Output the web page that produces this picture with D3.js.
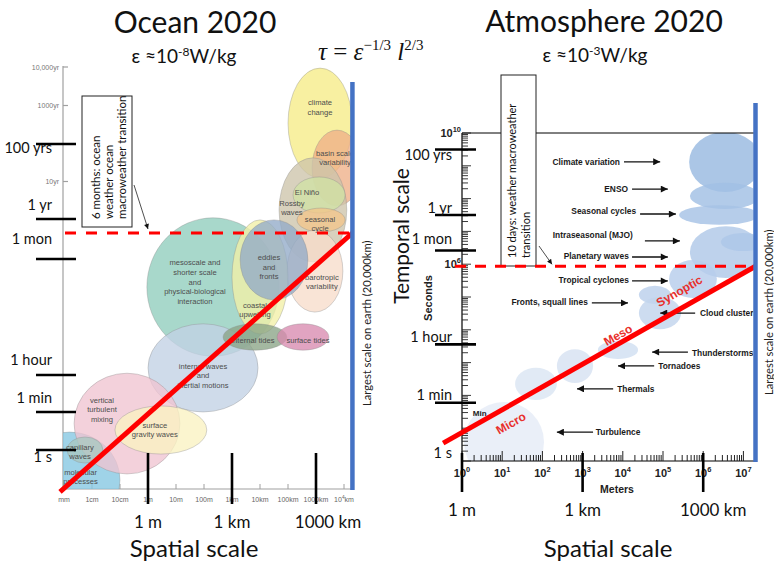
<!DOCTYPE html>
<html>
<head>
<meta charset="utf-8">
<script src="https://cdn.jsdelivr.net/npm/d3@7/dist/d3.min.js"></script>
<style>
  html, body { margin: 0; padding: 0; background: #fff; }
  svg { display: block; font-family: Lato, "Open Sans", sans-serif; }
</style>
</head>
<body>
<svg id="chart" width="774" height="567"></svg>
<script>
// ---------- units (seconds / metres) ----------
const SEC = 1, MIN = 60, HR = 3600, DAY = 86400, YR = 3.156e7, MON = YR / 12, HALF_YR = YR / 2;

// ---------- Ocean 2020 ----------
const oceanProcesses = [
  "climate\nchange", "basin scale\nvariability", "Rossby\nwaves", "El Niño", "seasonal\ncycle",
  "barotropic\nvariability", "mesoscale and\nshorter scale\nand\nphysical-biological\ninteraction",
  "coastal\nupwelling", "eddies\nand\nfronts", "internal waves\nand\ninertial motions",
  "internal tides", "surface tides", "molecular\nprocesses", "vertical\nturbulent\nmixing",
  "capillary\nwaves", "surface\ngravity waves"
];
// log10 of the length range (m) and time range (s) covered by each process
const oceanLogLength = [[5.0, 7.29], [5.86, 7.64], [4.68, 7.10], [5.18, 7.04], [5.32, 7.04], [4.96, 6.96],
  [-0.04, 4.68], [3.0, 5.0], [3.29, 5.71], [0.0, 3.93], [2.68, 4.96], [4.61, 6.46], [-4.6, -1.0],
  [-2.64, 1.14], [-2.89, -1.61], [-1.18, 2.10]];
const oceanLogTime = [[8.59, 11.47], [7.85, 9.86], [6.35, 9.13], [7.66, 8.62], [7.22, 7.79], [5.11, 7.26],
  [4.02, 7.53], [4.57, 7.48], [5.41, 7.48], [1.78, 4.82], [4.17, 4.82], [4.17, 4.82], [-3.65, 0.84],
  [-1.12, 3.60], [-0.61, 0.61], [-0.19, 2.07]];
const oceanLengthTicks = [1e-3, 1e-2, 1e-1, 1, 10, 100, 1e3, 1e4, 1e5, 1e6, 1e7];
const oceanLengthTickLabels = ["mm", "1cm", "10cm", "1m", "10m", "100m", "1km", "10km", "100km", "1000km", "10^4km"];
const oceanAxisTimes = [1e4 * YR, 1e3 * YR, 100 * YR, 10 * YR, YR];
const oceanAxisLabels = ["10,000yr", "1000yr", "", "10yr", ""];
const oceanTimeKnots = [SEC, MIN, HR, MON, HALF_YR, YR, 100 * YR, 1e4 * YR];
const oceanTimeMarks = [100 * YR, YR, MON, HR, MIN, SEC];
const oceanTimeMarkLabels = ["100 yrs", "1 yr", "1 mon", "1 hour", "1 min", "1 s"];
const oceanScaleLine = [[7.2e-4, 0.011], [2e7, HALF_YR]];     // [length m, time s]
const oceanTransition = HALF_YR;
const oceanTransitionText = ["6 months: ocean", "weather ocean", "macroweather transition"];

// ---------- Atmosphere 2020 ----------
const atmosProcesses = ["Climate variation", "ENSO", "Seasonal cycles", "Planetary waves", "MJO",
  "Tropical cyclones", "Fronts", "Cloud clusters", "Thunderstorms", "Tornadoes", "Thermals", "Turbulence"];
const atmosLogLength = [[5.65, 7.44], [5.67, 7.41], [5.40, 7.39], [5.67, 7.46], [6.44, 7.54], [5.15, 6.34],
  [4.40, 5.20], [4.40, 5.45], [3.38, 4.38], [2.36, 3.26], [1.32, 2.36], [0.05, 2.04]];
const atmosLogTime = [[8.20, 10.03], [7.68, 8.48], [7.20, 7.80], [5.58, 7.16], [6.40, 6.95], [4.97, 6.13],
  [4.79, 5.34], [4.02, 5.00], [3.11, 3.66], [2.38, 3.41], [1.86, 2.84], [-0.64, 1.80]];
const atmosNotes = ["Climate variation", "ENSO", "Seasonal cycles", "Intraseasonal (MJO)", "Planetary waves",
  "Tropical cyclones", "Fronts, squall lines", "Cloud clusters", "Thunderstorms", "Tornadoes", "Thermals", "Turbulence"];
const atmosNoteLogTime = [9.12, 8.29, 7.62, 6.89, 6.25, 5.52, 4.85, 4.51, 3.29, 2.90, 2.20, 0.88];
const atmosNoteTextEdge = [3.93, 4.13, 4.33, 4.25, 4.15, 4.15, 3.13, 5.92, 5.72, 4.88, 3.86, 3.33];
const atmosArrowLogTime = [9.12, 8.29, 7.53, 6.71, 6.22, 5.49, 4.82, 4.51, 3.32, 2.90, 2.20, 0.88];
const atmosArrowFrom = [4.03, 4.23, 4.43, 4.55, 4.23, 4.23, 3.23, 5.80, 5.62, 4.78, 3.76, 3.26];
const atmosArrowTo = [4.93, 5.12, 5.32, 5.42, 5.12, 5.12, 4.13, 4.93, 4.73, 3.88, 2.86, 2.36];
const atmosTimeMarks = [100 * YR, YR, MON, HR, MIN, SEC];
const atmosTimeMarkLabels = ["100 yrs", "1 yr", "1 mon", "1 hour", "1 min", "1 s"];
const atmosScaleLine = [[0.34, 3.5], [2e7, 10 * DAY]];
const atmosRegimes = ["Micro", "Meso", "Synoptic"];
const atmosRegimeLogLength = [1.02, 3.98, 5.6];
const atmosTransition = 10 * DAY;
const atmosTransitionText = ["10 days: weather macroweather", "transition"];

// ---------- shared ----------
const lengthMarks = [1, 1e3, 1e6];
const lengthMarkLabels = ["1 m", "1 km", "1000 km"];
const earthScale = 2e7;

// ---------- styles ----------
const oceanFill = ["#f6ec86", "#eeb088", "#cdc4ab", "#cfe2a4", "#f2c58a", "#f7dccb", "#8fcdbd", "#f2f0a6",
  "#92abc8", "#c2d1e4", "#8aa487", "#d98bb0", "#84c7e2", "#f0c4d1", "#a9c8c0", "#faf2c2"];
const oceanLabelNudge = [[0, -16], [-2, -10], [-21, -2], [-12, -3], [-1, 4], [7, 11], [-18, -5], [-5, 33],
  [-5, 7], [0, 8], [-2, 3], [5, 3], [11, -3], [-25, -14], [-5, 2], [-6, 0]];
const oceanMarkDy = [9, -9, -15, -10, -9, 12];
const atmosMarkDy = [11, -2, -6, -2, -3, -3];
const regimeOffset = [-16, 8, 16];
const RED = "#ff0000", BLUE = "#4472c4";
const smallFont = "'Liberation Sans Narrow','Arial Narrow','Liberation Sans',Arial,sans-serif";
const boldFont = "'Liberation Sans',Arial,sans-serif";

const svg = d3.select("#chart");
const defs = svg.append("defs");
function addHead(id, w, h) {
  defs.append("marker").attr("id", id).attr("viewBox", "0 0 10 10")
    .attr("refX", 10).attr("refY", 5).attr("markerWidth", w).attr("markerHeight", h)
    .attr("markerUnits", "userSpaceOnUse").attr("orient", "auto")
    .append("path").attr("d", "M0,0L10,5L0,10z").attr("fill", "#111");
}
addHead("head", 8, 7);
addHead("headThin", 7, 5);

function supLabel(sel, base, exp, size) {
  sel.append("tspan").text(base);
  sel.append("tspan").attr("dy", -size * 0.45).attr("font-size", size * 0.68).text(exp);
}

// =====================================================================
// Ocean panel
// =====================================================================
const xO = d3.scaleLog().domain([1e-3, 1e7]).range([64, 344]);
const yOlin = d3.scaleLinear().domain(oceanTimeKnots.map(Math.log10)).range([450, 412, 375, 259, 233, 219, 144, 67]);
const yO = s => yOlin(Math.log10(s));
const oAxisX = 63, oAxisY = 489;

defs.append("clipPath").attr("id", "clipO").append("rect")
  .attr("x", oAxisX).attr("y", 0).attr("width", xO(earthScale) - oAxisX).attr("height", oAxisY);

const gO = svg.append("g");
// gray axes of the base diagram
gO.append("line").attr("x1", oAxisX).attr("x2", oAxisX).attr("y1", yO(1e4 * YR) - 1).attr("y2", oAxisY)
  .attr("stroke", "#a0a0a0").attr("stroke-width", 1.2);
gO.append("line").attr("x1", oAxisX).attr("x2", xO(earthScale)).attr("y1", oAxisY).attr("y2", oAxisY)
  .attr("stroke", "#a0a0a0").attr("stroke-width", 1.2);
oceanAxisTimes.forEach((v, i) => {
  gO.append("line").attr("x1", oAxisX).attr("x2", oAxisX + 5).attr("y1", yO(v)).attr("y2", yO(v))
    .attr("stroke", "#a0a0a0").attr("stroke-width", 1.2);
  if (oceanAxisLabels[i]) gO.append("text").attr("x", oAxisX - 4).attr("y", yO(v) + 2.5)
    .attr("text-anchor", "end").attr("font-family", smallFont).attr("font-size", 7).attr("fill", "#777")
    .text(oceanAxisLabels[i]);
});
oceanLengthTicks.forEach((v, i) => {
  gO.append("line").attr("x1", xO(v)).attr("x2", xO(v)).attr("y1", oAxisY).attr("y2", oAxisY - 5)
    .attr("stroke", "#a0a0a0").attr("stroke-width", 1);
  const lab = oceanLengthTickLabels[i];
  const t = gO.append("text").attr("x", xO(v)).attr("y", oAxisY + 13).attr("text-anchor", "middle")
    .attr("font-family", smallFont).attr("font-size", 7).attr("fill", "#666");
  if (lab.startsWith("10^")) { supLabel(t, "10", "4", 7); t.append("tspan").attr("dy", 3).text("km"); }
  else t.text(lab);
});

// process ellipses
const gEll = gO.append("g").attr("clip-path", "url(#clipO)");
oceanProcesses.forEach((name, i) => {
  const x0 = xO(10 ** oceanLogLength[i][0]), x1 = xO(10 ** oceanLogLength[i][1]);
  const y0 = yO(10 ** oceanLogTime[i][0]), y1 = yO(10 ** oceanLogTime[i][1]);
  gEll.append("ellipse").attr("cx", (x0 + x1) / 2).attr("cy", (y0 + y1) / 2)
    .attr("rx", Math.abs(x1 - x0) / 2).attr("ry", Math.abs(y1 - y0) / 2)
    .attr("fill", oceanFill[i]).attr("fill-opacity", 0.78)
    .attr("stroke", "#8a8a8a").attr("stroke-opacity", 0.45).attr("stroke-width", 0.8);
});
oceanProcesses.forEach((name, i) => {
  const x0 = xO(10 ** oceanLogLength[i][0]), x1 = xO(10 ** oceanLogLength[i][1]);
  const y0 = yO(10 ** oceanLogTime[i][0]), y1 = yO(10 ** oceanLogTime[i][1]);
  const cx = (x0 + x1) / 2 + oceanLabelNudge[i][0], cy = (y0 + y1) / 2 + oceanLabelNudge[i][1];
  const lines = name.split("\n"), lh = 9.6;
  const t = gO.append("text").attr("text-anchor", "middle").attr("font-family", smallFont)
    .attr("font-size", 7.6).attr("fill", "#4d4d4d");
  lines.forEach((ln, k) => t.append("tspan").attr("x", cx).attr("y", cy - (lines.length - 1) * lh / 2 + k * lh + 2.6).text(ln));
});

// transition box
gO.append("rect").attr("x", 82).attr("y", 96).attr("width", 50).attr("height", 131)
  .attr("fill", "#fff").attr("stroke", "#222").attr("stroke-width", 1);
oceanTransitionText.forEach((ln, k) => {
  gO.append("text").attr("transform", `translate(${99.5 + k * 13},219) rotate(-90)`)
    .attr("font-size", 11.5).attr("fill", "#111").text(ln);
});
gO.append("line").attr("x1", 134).attr("y1", 185).attr("x2", 148).attr("y2", yO(oceanTransition) - 4)
  .attr("stroke", "#222").attr("stroke-width", 0.8).attr("marker-end", "url(#headThin)");

// transition (dashed) and scaling line
gO.append("line").attr("x1", oAxisX + 2).attr("x2", xO(earthScale)).attr("y1", yO(oceanTransition)).attr("y2", yO(oceanTransition))
  .attr("stroke", RED).attr("stroke-width", 3).attr("stroke-dasharray", "11,10");
gO.append("path").attr("d", d3.line().x(d => xO(d[0])).y(d => yO(d[1]))(oceanScaleLine))
  .attr("stroke", RED).attr("stroke-width", 5).attr("fill", "none");

// annotated time marks
oceanTimeMarks.forEach((v, i) => {
  gO.append("line").attr("x1", 36).attr("x2", 76).attr("y1", yO(v)).attr("y2", yO(v))
    .attr("stroke", "#000").attr("stroke-width", 2.6);
  gO.append("text").attr("x", 52).attr("y", yO(v) + oceanMarkDy[i]).attr("text-anchor", "end")
    .attr("font-size", 14.5).attr("fill", "#111").text(oceanTimeMarkLabels[i]);
});
// annotated length marks
lengthMarks.forEach((v, i) => {
  gO.append("line").attr("x1", xO(v)).attr("x2", xO(v)).attr("y1", 453).attr("y2", 504)
    .attr("stroke", "#000").attr("stroke-width", 2.6);
  gO.append("text").attr("x", xO(v) + (i === 2 ? 12 : 0)).attr("y", 528).attr("text-anchor", "middle")
    .attr("font-size", 17).attr("fill", "#111").text(lengthMarkLabels[i]);
});
gO.append("text").attr("x", 194).attr("y", 557).attr("text-anchor", "middle").attr("font-size", 24)
  .attr("fill", "#111").text("Spatial scale");

// largest scale on earth
gO.append("line").attr("x1", xO(earthScale)).attr("x2", xO(earthScale)).attr("y1", 82).attr("y2", oAxisY + 1)
  .attr("stroke", BLUE).attr("stroke-width", 4.5);
gO.append("text").attr("transform", `translate(371,406) rotate(-90)`).attr("font-size", 11.2)
  .attr("fill", "#222").text("Largest scale on earth (20,000km)");

// titles
gO.append("text").attr("x", 195).attr("y", 33).attr("text-anchor", "middle").attr("font-size", 30)
  .attr("fill", "#111").text("Ocean 2020");
{
  const t = gO.append("text").attr("x", 184).attr("y", 63).attr("text-anchor", "middle").attr("font-size", 19).attr("fill", "#111");
  t.append("tspan").text("ε ≈10");
  t.append("tspan").attr("dy", -7).attr("font-size", 12).text("-8");
  t.append("tspan").attr("dy", 7).text("W/kg");
}
{
  const f = svg.append("text").attr("x", 318).attr("y", 60)
    .attr("font-family", "'Liberation Serif','DejaVu Serif',serif").attr("font-size", 25).attr("fill", "#111");
  f.append("tspan").attr("font-style", "italic").text("τ");
  f.append("tspan").text(" = ");
  f.append("tspan").attr("font-style", "italic").text("ε");
  f.append("tspan").attr("dy", -10).attr("font-size", 15).text("−1/3");
  f.append("tspan").attr("dy", 10).attr("font-style", "italic").text(" l");
  f.append("tspan").attr("dy", -10).attr("font-size", 15).text("2/3");
}

// =====================================================================
// Atmosphere panel
// =====================================================================
const xA = d3.scaleLog().domain([1, 1e7]).range([462, 743.4]);
const yA = d3.scaleLog().domain([1, 1e10]).range([461, 133]);
const aRight = xA(earthScale);

defs.append("clipPath").attr("id", "clipA").append("rect")
  .attr("x", xA(1)).attr("y", yA(1e10)).attr("width", aRight - 2 - xA(1)).attr("height", yA(1) - yA(1e10));

const gA = svg.append("g");
const atmosFill = d3.scaleLinear().domain([0, 3, 5, 8]).range(["#e8eef7", "#d6e2f2", "#bcd0ec", "#a2bfe4"]);
const gBlob = gA.append("g").attr("clip-path", "url(#clipA)");
atmosProcesses.forEach((name, i) => {
  const x0 = xA(10 ** atmosLogLength[i][0]), x1 = xA(10 ** atmosLogLength[i][1]);
  const y0 = yA(10 ** atmosLogTime[i][0]), y1 = yA(10 ** atmosLogTime[i][1]);
  const mid = (atmosLogTime[i][0] + atmosLogTime[i][1]) / 2;
  gBlob.append("ellipse").attr("cx", (x0 + x1) / 2).attr("cy", (y0 + y1) / 2)
    .attr("rx", Math.abs(x1 - x0) / 2).attr("ry", Math.abs(y1 - y0) / 2)
    .attr("fill", atmosFill(mid)).attr("fill-opacity", 0.82);
});

// axes
gA.append("line").attr("x1", xA(1)).attr("x2", xA(1)).attr("y1", yA(1e10)).attr("y2", yA(1)).attr("stroke", "#000").attr("stroke-width", 1.2);
gA.append("line").attr("x1", xA(1)).attr("x2", aRight).attr("y1", yA(1)).attr("y2", yA(1)).attr("stroke", "#000").attr("stroke-width", 1.2);
gA.append("line").attr("x1", xA(1)).attr("x2", aRight).attr("y1", yA(1e10)).attr("y2", yA(1e10)).attr("stroke", "#000").attr("stroke-width", 1);
for (let k = 0; k <= 10; k++) {
  for (let m = 1; m <= (k < 10 ? 9 : 1); m++) {
    const y = yA(m * 10 ** k);
    gA.append("line").attr("x1", xA(1)).attr("x2", xA(1) + (m === 1 ? 9 : 6)).attr("y1", y).attr("y2", y)
      .attr("stroke", "#222").attr("stroke-width", 0.9);
  }
}
for (let k = 0; k <= 7; k++) {
  for (let m = 1; m <= (k < 7 ? 9 : 1); m++) {
    const x = xA(m * 10 ** k);
    gA.append("line").attr("x1", x).attr("x2", x).attr("y1", yA(1)).attr("y2", yA(1) - (m === 1 ? 10 : 6))
      .attr("stroke", "#222").attr("stroke-width", 1);
  }
  const t = gA.append("text").attr("x", xA(10 ** k)).attr("y", 477).attr("text-anchor", "middle")
    .attr("font-family", boldFont).attr("font-weight", "bold").attr("font-size", 11).attr("fill", "#222");
  supLabel(t, "10", String(k), 11);
}
[[1e10, "10"], [1e6, "6"]].forEach(([v, e]) => {
  const t = gA.append("text").attr("x", xA(1) - 1).attr("y", yA(v) + 4).attr("text-anchor", "end")
    .attr("font-family", boldFont).attr("font-weight", "bold").attr("font-size", 11).attr("fill", "#222");
  supLabel(t, "10", e, 11);
});
gA.append("text").attr("x", 617).attr("y", 493).attr("text-anchor", "middle").attr("font-family", boldFont)
  .attr("font-weight", "bold").attr("font-size", 10.5).attr("fill", "#222").text("Meters");
gA.append("text").attr("transform", "translate(432,298) rotate(-90)").attr("text-anchor", "middle")
  .attr("font-family", boldFont).attr("font-weight", "bold").attr("font-size", 11).attr("fill", "#222").text("Seconds");
gA.append("text").attr("x", xA(10 ** 0.27)).attr("y", yA(10 ** 1.46) + 3).attr("font-family", boldFont)
  .attr("font-weight", "bold").attr("font-size", 8).attr("fill", "#222").text("Min");

// process annotations with arrows
const gNote = gA.append("g").attr("clip-path", "url(#clipA)");
atmosNotes.forEach((txt, i) => {
  const xf = xA(10 ** atmosArrowFrom[i]), xt = xA(10 ** atmosArrowTo[i]);
  const ya = yA(10 ** atmosArrowLogTime[i]), yt = yA(10 ** atmosNoteLogTime[i]);
  gNote.append("line").attr("x1", xf).attr("x2", xt).attr("y1", ya).attr("y2", ya)
    .attr("stroke", "#111").attr("stroke-width", 1.3).attr("marker-end", "url(#head)");
  gNote.append("text").attr("x", xA(10 ** atmosNoteTextEdge[i])).attr("y", yt + 3)
    .attr("text-anchor", xt > xf ? "end" : "start").attr("font-family", boldFont).attr("font-weight", "bold")
    .attr("font-size", 8.4).attr("fill", "#1a1a1a").text(txt);
});

// transition box
gA.append("rect").attr("x", 501).attr("y", 75).attr("width", 35).attr("height", 191)
  .attr("fill", "#fff").attr("stroke", "#222").attr("stroke-width", 1);
atmosTransitionText.forEach((ln, k) => {
  gA.append("text").attr("transform", `translate(${515.5 + k * 14},258) rotate(-90)`)
    .attr("font-size", 11).attr("fill", "#111").text(ln);
});
gA.append("line").attr("x1", 539).attr("y1", 246).attr("x2", 552).attr("y2", yA(atmosTransition) - 2)
  .attr("stroke", "#222").attr("stroke-width", 0.8).attr("marker-end", "url(#headThin)");

// transition (dashed) and scaling line
gA.append("line").attr("x1", 455).attr("x2", aRight).attr("y1", yA(atmosTransition)).attr("y2", yA(atmosTransition))
  .attr("stroke", RED).attr("stroke-width", 3).attr("stroke-dasharray", "11,9");
const aLine = atmosScaleLine.map(d => [xA(d[0]), yA(d[1])]);
gA.append("path").attr("d", d3.line()(aLine)).attr("stroke", RED).attr("stroke-width", 5).attr("fill", "none");
{
  const [[x0, y0], [x1, y1]] = aLine;
  const len = Math.hypot(x1 - x0, y1 - y0), ux = (x1 - x0) / len, uy = (y1 - y0) / len;
  const ang = Math.atan2(y1 - y0, x1 - x0) * 180 / Math.PI;
  atmosRegimes.forEach((name, i) => {
    const x = xA(10 ** atmosRegimeLogLength[i]);
    const y = y0 + (x - x0) / (x1 - x0) * (y1 - y0);
    const px = x + uy * regimeOffset[i], py = y - ux * regimeOffset[i];
    gA.append("text").attr("transform", `translate(${px},${py}) rotate(${ang})`).attr("text-anchor", "middle")
      .attr("dy", "0.35em").attr("font-family", boldFont).attr("font-weight", "bold").attr("font-size", 12)
      .attr("fill", "#e8302c").text(name);
  });
}

// annotated time marks
atmosTimeMarks.forEach((v, i) => {
  if (v > SEC) gA.append("line").attr("x1", 435).attr("x2", 476).attr("y1", yA(v)).attr("y2", yA(v))
    .attr("stroke", "#000").attr("stroke-width", 2.6);
  gA.append("text").attr("x", 452).attr("y", yA(v) + atmosMarkDy[i]).attr("text-anchor", "end")
    .attr("font-size", 14.5).attr("fill", "#111").text(atmosTimeMarkLabels[i]);
});
lengthMarks.forEach((v, i) => {
  gA.append("line").attr("x1", xA(v)).attr("x2", xA(v)).attr("y1", 453).attr("y2", 492)
    .attr("stroke", "#000").attr("stroke-width", 2.6);
  gA.append("text").attr("x", xA(v) + (i === 2 ? 10 : 0)).attr("y", 516).attr("text-anchor", "middle")
    .attr("font-size", 17).attr("fill", "#111").text(lengthMarkLabels[i]);
});
gA.append("text").attr("x", 608).attr("y", 557).attr("text-anchor", "middle").attr("font-size", 24)
  .attr("fill", "#111").text("Spatial scale");
gA.append("text").attr("transform", "translate(409,236) rotate(-90)").attr("text-anchor", "middle")
  .attr("font-size", 21).attr("fill", "#111").text("Temporal  scale");

// largest scale on earth
gA.append("line").attr("x1", aRight).attr("x2", aRight).attr("y1", 103).attr("y2", yA(1) + 1)
  .attr("stroke", BLUE).attr("stroke-width", 4.5);
gA.append("text").attr("transform", "translate(773,395) rotate(-90)").attr("font-size", 11.2)
  .attr("fill", "#222").text("Largest scale on earth (20,000km)");

// titles
gA.append("text").attr("x", 604).attr("y", 32).attr("text-anchor", "middle").attr("font-size", 30)
  .attr("fill", "#111").text("Atmosphere 2020");
{
  const t = gA.append("text").attr("x", 595).attr("y", 62).attr("text-anchor", "middle").attr("font-size", 19).attr("fill", "#111");
  t.append("tspan").text("ε ≈10");
  t.append("tspan").attr("dy", -7).attr("font-size", 12).text("-3");
  t.append("tspan").attr("dy", 7).text("W/kg");
}
</script>
</body>
</html>
